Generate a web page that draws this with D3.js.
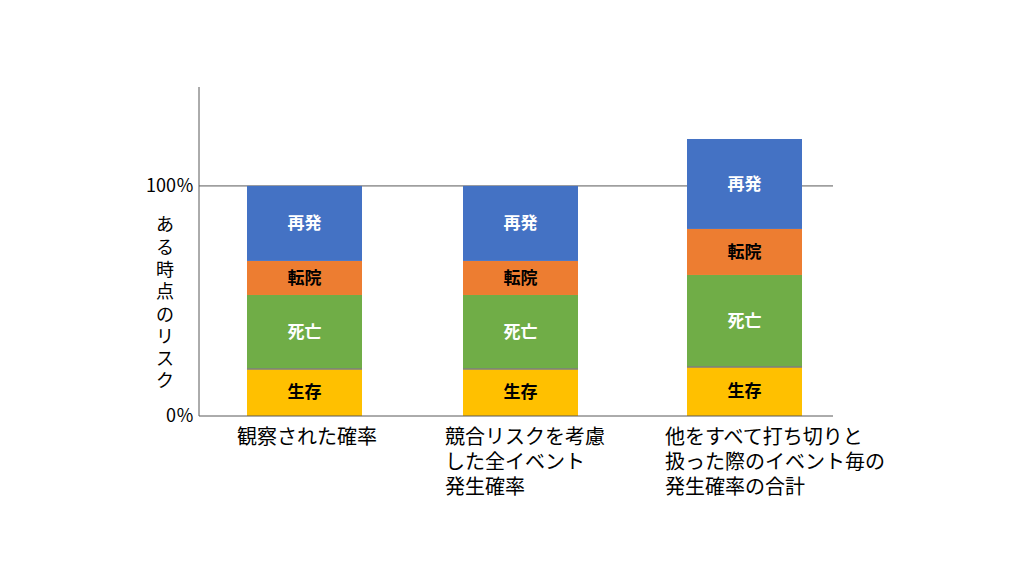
<!DOCTYPE html>
<html><head><meta charset="utf-8">
<script src="https://cdn.jsdelivr.net/npm/d3@7/dist/d3.min.js"></script>
<style>body{margin:0;background:#fff;font-family:"Noto Sans CJK JP",sans-serif}</style>
</head><body><svg id="c" width="1024" height="576"></svg>
<script>
const categories = [["観察された確率"],["競合リスクを考慮","した全イベント","発生確率"],["他をすべて打ち切りと","扱った際のイベント毎の","発生確率の合計"]];
const seriesNames = ["生存","死亡","転院","再発"];
const survival = [20.4, 20.4, 21.3];
const death = [32.2, 32.2, 40.0];
const transfer = [14.8, 14.8, 20.0];
const relapse = [32.6, 32.6, 39.1];
const colors = ["#FFC000","#70AD47","#ED7D31","#4472C4"];
const textColors = ["#000","#fff","#000","#fff"];
const tickVals = [0,100];
const tickLabels = ["0％","100％"];

const svg = d3.select("#c");
const y = d3.scaleLinear().domain([0,143]).range([416,87]);
const xs = d3.scaleOrdinal().domain([0,1,2]).range([247,463,687]);
const bw = 115;
const data = categories.map((c,i)=>({i, vals:[survival[i],death[i],transfer[i],relapse[i]]}));

svg.append("line").attr("x1",199).attr("x2",833).attr("y1",y(100)).attr("y2",y(100)).attr("stroke","#595959").attr("stroke-width",1);

data.forEach(d=>{
  let acc=0;
  d.vals.forEach((v,k)=>{
    const y0=y(acc), y1=y(acc+v); acc+=v;
    svg.append("rect").attr("x",xs(d.i)).attr("width",bw).attr("y",y1).attr("height",y0-y1).attr("fill",colors[k]);
    svg.append("text").attr("x",xs(d.i)+bw/2).attr("y",(y0+y1)/2).attr("dy","0.35em")
      .attr("text-anchor","middle").attr("font-size",17).attr("font-weight","bold")
      .attr("fill",textColors[k]).text(seriesNames[k]);
  });
  svg.append("line").attr("x1",xs(d.i)).attr("x2",xs(d.i)+bw).attr("y1",y(d.vals[0])).attr("y2",y(d.vals[0])).attr("stroke","#7f7f7f").attr("stroke-width",1.5);
});

svg.append("line").attr("x1",199).attr("x2",199).attr("y1",87).attr("y2",416).attr("stroke","#595959");
svg.append("line").attr("x1",199).attr("x2",833).attr("y1",416).attr("y2",416).attr("stroke","#595959");

tickVals.forEach((t,i)=>{
  svg.append("text").attr("x",194).attr("y",y(t)).attr("dy","0.35em").attr("text-anchor","end")
    .attr("font-size",18).attr("fill","#000").text(tickLabels[i]);
});

"ある時点のリスク".split("").forEach((ch,i)=>{
  svg.append("text").attr("x",165).attr("y",225+i*22.3).attr("dy","0.35em").attr("text-anchor","middle")
    .attr("font-size",18).attr("fill","#000").text(ch);
});

const labelX=[237,445,665];
categories.forEach((lines,i)=>{
  lines.forEach((l,j)=>{
    svg.append("text").attr("x",labelX[i]).attr("y",437+j*25).attr("dy","0.35em")
      .attr("font-size",20).attr("fill","#000").text(l);
  });
});
</script></body></html>
